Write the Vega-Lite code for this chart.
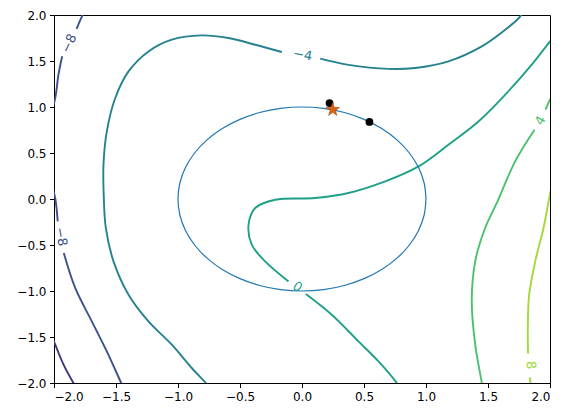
{
  "$schema": "https://vega.github.io/schema/vega-lite/v6.json",
  "width": 496,
  "height": 368,
  "autosize": {"type": "none"},
  "padding": {"left": 54, "top": 15, "right": 20, "bottom": 35},
  "config": {
    "view": {"stroke": "black", "strokeWidth": 1},
    "font": "DejaVu Sans",
    "axis": {"domainColor": "black", "tickColor": "black", "labelColor": "black", "labelFont": "DejaVu Sans", "labelFontSize": 12, "tickSize": 4.5, "grid": false, "labelPadding": 3.5}
  },
  "datasets": {
    "contours": [
      {"level": "-12", "seg": "m12", "i": 0, "x": -2.03, "y": -1.46},
      {"level": "-12", "seg": "m12", "i": 1, "x": -1.99, "y": -1.584},
      {"level": "-12", "seg": "m12", "i": 2, "x": -1.923, "y": -1.8},
      {"level": "-12", "seg": "m12", "i": 3, "x": -1.843, "y": -2.0},
      {"level": "-12", "seg": "m12", "i": 4, "x": -1.82, "y": -2.05},

      {"level": "-8", "seg": "m8a", "i": 0, "x": -1.75, "y": 2.05},
      {"level": "-8", "seg": "m8a", "i": 1, "x": -1.768, "y": 2.004},
      {"level": "-8", "seg": "m8a", "i": 2, "x": -1.818, "y": 1.85},
      {"level": "-8", "seg": "m8b", "i": 0, "x": -1.934, "y": 1.552},
      {"level": "-8", "seg": "m8b", "i": 1, "x": -1.964, "y": 1.351},
      {"level": "-8", "seg": "m8b", "i": 2, "x": -1.99, "y": 1.098},
      {"level": "-8", "seg": "m8b", "i": 3, "x": -2.02, "y": 0.95},
      {"level": "-8", "seg": "m8c", "i": 0, "x": -2.01, "y": 0.12},
      {"level": "-8", "seg": "m8c", "i": 1, "x": -1.988, "y": -0.008},
      {"level": "-8", "seg": "m8c", "i": 2, "x": -1.97, "y": -0.243},
      {"level": "-8", "seg": "m8d", "i": 0, "x": -1.921, "y": -0.587},
      {"level": "-8", "seg": "m8d", "i": 1, "x": -1.829, "y": -0.967},
      {"level": "-8", "seg": "m8d", "i": 2, "x": -1.695, "y": -1.33},
      {"level": "-8", "seg": "m8d", "i": 3, "x": -1.574, "y": -1.657},
      {"level": "-8", "seg": "m8d", "i": 4, "x": -1.458, "y": -2.0},
      {"level": "-8", "seg": "m8d", "i": 5, "x": -1.44, "y": -2.05},

      {"level": "-4", "seg": "m4a", "i": 0, "x": -0.75, "y": -2.05},
      {"level": "-4", "seg": "m4a", "i": 1, "x": -0.776, "y": -2.0},
      {"level": "-4", "seg": "m4a", "i": 2, "x": -0.889, "y": -1.837},
      {"level": "-4", "seg": "m4a", "i": 3, "x": -1.05, "y": -1.584},
      {"level": "-4", "seg": "m4a", "i": 4, "x": -1.238, "y": -1.33},
      {"level": "-4", "seg": "m4a", "i": 5, "x": -1.399, "y": -1.04},
      {"level": "-4", "seg": "m4a", "i": 6, "x": -1.52, "y": -0.678},
      {"level": "-4", "seg": "m4a", "i": 7, "x": -1.582, "y": -0.315},
      {"level": "-4", "seg": "m4a", "i": 8, "x": -1.598, "y": 0.0},
      {"level": "-4", "seg": "m4a", "i": 9, "x": -1.601, "y": 0.373},
      {"level": "-4", "seg": "m4a", "i": 10, "x": -1.574, "y": 0.735},
      {"level": "-4", "seg": "m4a", "i": 11, "x": -1.506, "y": 1.098},
      {"level": "-4", "seg": "m4a", "i": 12, "x": -1.399, "y": 1.387},
      {"level": "-4", "seg": "m4a", "i": 13, "x": -1.238, "y": 1.604},
      {"level": "-4", "seg": "m4a", "i": 14, "x": -1.05, "y": 1.732},
      {"level": "-4", "seg": "m4a", "i": 15, "x": -0.808, "y": 1.778},
      {"level": "-4", "seg": "m4a", "i": 16, "x": -0.593, "y": 1.75},
      {"level": "-4", "seg": "m4a", "i": 17, "x": -0.377, "y": 1.677},
      {"level": "-4", "seg": "m4a", "i": 18, "x": -0.163, "y": 1.598},
      {"level": "-4", "seg": "m4b", "i": 0, "x": 0.147, "y": 1.525},
      {"level": "-4", "seg": "m4b", "i": 1, "x": 0.375, "y": 1.458},
      {"level": "-4", "seg": "m4b", "i": 2, "x": 0.698, "y": 1.414},
      {"level": "-4", "seg": "m4b", "i": 3, "x": 0.913, "y": 1.424},
      {"level": "-4", "seg": "m4b", "i": 4, "x": 1.181, "y": 1.496},
      {"level": "-4", "seg": "m4b", "i": 5, "x": 1.45, "y": 1.659},
      {"level": "-4", "seg": "m4b", "i": 6, "x": 1.639, "y": 1.84},
      {"level": "-4", "seg": "m4b", "i": 7, "x": 1.76, "y": 1.985},
      {"level": "-4", "seg": "m4b", "i": 8, "x": 1.78, "y": 2.05},

      {"level": "0", "seg": "z0a", "i": 0, "x": 2.04, "y": 1.78},
      {"level": "0", "seg": "z0a", "i": 1, "x": 2.0, "y": 1.713},
      {"level": "0", "seg": "z0a", "i": 2, "x": 1.853, "y": 1.46},
      {"level": "0", "seg": "z0a", "i": 3, "x": 1.639, "y": 1.134},
      {"level": "0", "seg": "z0a", "i": 4, "x": 1.423, "y": 0.843},
      {"level": "0", "seg": "z0a", "i": 5, "x": 1.181, "y": 0.59},
      {"level": "0", "seg": "z0a", "i": 6, "x": 0.94, "y": 0.354},
      {"level": "0", "seg": "z0a", "i": 7, "x": 0.671, "y": 0.191},
      {"level": "0", "seg": "z0a", "i": 8, "x": 0.375, "y": 0.065},
      {"level": "0", "seg": "z0a", "i": 9, "x": 0.106, "y": 0.011},
      {"level": "0", "seg": "z0a", "i": 10, "x": -0.216, "y": -0.008},
      {"level": "0", "seg": "z0a", "i": 11, "x": -0.377, "y": -0.098},
      {"level": "0", "seg": "z0a", "i": 12, "x": -0.431, "y": -0.279},
      {"level": "0", "seg": "z0a", "i": 13, "x": -0.405, "y": -0.497},
      {"level": "0", "seg": "z0a", "i": 14, "x": -0.297, "y": -0.678},
      {"level": "0", "seg": "z0a", "i": 15, "x": -0.109, "y": -0.896},
      {"level": "0", "seg": "z0b", "i": 0, "x": 0.031, "y": -1.033},
      {"level": "0", "seg": "z0b", "i": 1, "x": 0.24, "y": -1.258},
      {"level": "0", "seg": "z0b", "i": 2, "x": 0.456, "y": -1.548},
      {"level": "0", "seg": "z0b", "i": 3, "x": 0.617, "y": -1.765},
      {"level": "0", "seg": "z0b", "i": 4, "x": 0.765, "y": -2.0},
      {"level": "0", "seg": "z0b", "i": 5, "x": 0.79, "y": -2.05},

      {"level": "4", "seg": "p4a", "i": 0, "x": 2.02, "y": 1.12},
      {"level": "4", "seg": "p4a", "i": 1, "x": 2.0, "y": 1.08},
      {"level": "4", "seg": "p4a", "i": 2, "x": 1.964, "y": 0.971},
      {"level": "4", "seg": "p4b", "i": 0, "x": 1.875, "y": 0.753},
      {"level": "4", "seg": "p4b", "i": 1, "x": 1.719, "y": 0.409},
      {"level": "4", "seg": "p4b", "i": 2, "x": 1.571, "y": -0.043},
      {"level": "4", "seg": "p4b", "i": 3, "x": 1.477, "y": -0.315},
      {"level": "4", "seg": "p4b", "i": 4, "x": 1.397, "y": -0.678},
      {"level": "4", "seg": "p4b", "i": 5, "x": 1.369, "y": -1.113},
      {"level": "4", "seg": "p4b", "i": 6, "x": 1.397, "y": -1.584},
      {"level": "4", "seg": "p4b", "i": 7, "x": 1.45, "y": -2.0},
      {"level": "4", "seg": "p4b", "i": 8, "x": 1.455, "y": -2.05},

      {"level": "8", "seg": "p8a", "i": 0, "x": 2.01, "y": 0.12},
      {"level": "8", "seg": "p8a", "i": 1, "x": 1.994, "y": 0.011},
      {"level": "8", "seg": "p8a", "i": 2, "x": 1.948, "y": -0.315},
      {"level": "8", "seg": "p8a", "i": 3, "x": 1.881, "y": -0.678},
      {"level": "8", "seg": "p8a", "i": 4, "x": 1.832, "y": -1.04},
      {"level": "8", "seg": "p8a", "i": 5, "x": 1.821, "y": -1.402},
      {"level": "8", "seg": "p8a", "i": 6, "x": 1.823, "y": -1.68},
      {"level": "8", "seg": "p8b", "i": 0, "x": 1.837, "y": -1.94},
      {"level": "8", "seg": "p8b", "i": 1, "x": 1.843, "y": -2.0},
      {"level": "8", "seg": "p8b", "i": 2, "x": 1.845, "y": -2.05}
    ],
    "circle": [
      {"i": 0, "x": 1.0, "y": 0.0},
      {"i": 1, "x": 0.985, "y": 0.174},
      {"i": 2, "x": 0.94, "y": 0.342},
      {"i": 3, "x": 0.866, "y": 0.5},
      {"i": 4, "x": 0.766, "y": 0.643},
      {"i": 5, "x": 0.643, "y": 0.766},
      {"i": 6, "x": 0.5, "y": 0.866},
      {"i": 7, "x": 0.342, "y": 0.94},
      {"i": 8, "x": 0.174, "y": 0.985},
      {"i": 9, "x": 0.0, "y": 1.0},
      {"i": 10, "x": -0.174, "y": 0.985},
      {"i": 11, "x": -0.342, "y": 0.94},
      {"i": 12, "x": -0.5, "y": 0.866},
      {"i": 13, "x": -0.643, "y": 0.766},
      {"i": 14, "x": -0.766, "y": 0.643},
      {"i": 15, "x": -0.866, "y": 0.5},
      {"i": 16, "x": -0.94, "y": 0.342},
      {"i": 17, "x": -0.985, "y": 0.174},
      {"i": 18, "x": -1.0, "y": 0.0},
      {"i": 19, "x": -0.985, "y": -0.174},
      {"i": 20, "x": -0.94, "y": -0.342},
      {"i": 21, "x": -0.866, "y": -0.5},
      {"i": 22, "x": -0.766, "y": -0.643},
      {"i": 23, "x": -0.643, "y": -0.766},
      {"i": 24, "x": -0.5, "y": -0.866},
      {"i": 25, "x": -0.342, "y": -0.94},
      {"i": 26, "x": -0.174, "y": -0.985},
      {"i": 27, "x": 0.0, "y": -1.0},
      {"i": 28, "x": 0.174, "y": -0.985},
      {"i": 29, "x": 0.342, "y": -0.94},
      {"i": 30, "x": 0.5, "y": -0.866},
      {"i": 31, "x": 0.643, "y": -0.766},
      {"i": 32, "x": 0.766, "y": -0.643},
      {"i": 33, "x": 0.866, "y": -0.5},
      {"i": 34, "x": 0.94, "y": -0.342},
      {"i": 35, "x": 0.985, "y": -0.174},
      {"i": 36, "x": 1.0, "y": 0.0},
      {"i": 37, "x": 0.985, "y": 0.174}
    ],
    "dots": [
      {"x": 0.222, "y": 1.043},
      {"x": 0.544, "y": 0.837}
    ],
    "star": [
      {"x": 0.248, "y": 0.971}
    ]
  },
  "layer": [
    {
      "data": {"name": "contours"},
      "mark": {"type": "line", "clip": true, "strokeWidth": 1.9, "interpolate": "catmull-rom"},
      "encoding": {
        "x": {"field": "x", "type": "quantitative", "scale": {"domain": [-2, 2], "nice": false, "zero": false}, "axis": {"values": [-2, -1.5, -1, -0.5, 0, 0.5, 1, 1.5, 2], "format": ".1f", "title": null}},
        "y": {"field": "y", "type": "quantitative", "scale": {"domain": [-2, 2], "nice": false, "zero": false}, "axis": {"values": [-2, -1.5, -1, -0.5, 0, 0.5, 1, 1.5, 2], "format": ".1f", "title": null}},
        "color": {"field": "level", "type": "nominal", "scale": {"domain": ["-12", "-8", "-4", "0", "4", "8"], "range": ["#46327e", "#3b528b", "#26828e", "#1fa088", "#4ac16d", "#a2da37"]}, "legend": null},
        "detail": {"field": "seg"},
        "order": {"field": "i", "type": "quantitative"}
      }
    },
    {
      "data": {"name": "circle"},
      "transform": [{"filter": "datum.i <= 36"}],
      "mark": {"type": "line", "clip": true, "strokeWidth": 1.2, "color": "#1f77b4", "interpolate": "catmull-rom"},
      "encoding": {
        "x": {"field": "x", "type": "quantitative"},
        "y": {"field": "y", "type": "quantitative"},
        "order": {"field": "i", "type": "quantitative"}
      }
    },
    {
      "data": {"values": [{"x": -1.878, "y": 1.69, "label": "−8"}]},
      "mark": {"type": "text", "font": "DejaVu Sans", "fontSize": 13, "angle": -64, "color": "#3b528b", "align": "center", "baseline": "middle"},
      "encoding": {"x": {"field": "x", "type": "quantitative"}, "y": {"field": "y", "type": "quantitative"}, "text": {"field": "label"}}
    },
    {
      "data": {"values": [{"x": -1.944, "y": -0.41, "label": "−8"}]},
      "mark": {"type": "text", "font": "DejaVu Sans", "fontSize": 13, "angle": 79, "color": "#3b528b", "align": "center", "baseline": "middle"},
      "encoding": {"x": {"field": "x", "type": "quantitative"}, "y": {"field": "y", "type": "quantitative"}, "text": {"field": "label"}}
    },
    {
      "data": {"values": [{"x": 0.005, "y": 1.565, "label": "−4"}]},
      "mark": {"type": "text", "font": "DejaVu Sans", "fontSize": 13, "angle": 10, "color": "#26828e", "align": "center", "baseline": "middle"},
      "encoding": {"x": {"field": "x", "type": "quantitative"}, "y": {"field": "y", "type": "quantitative"}, "text": {"field": "label"}}
    },
    {
      "data": {"values": [{"x": -0.036, "y": -0.955, "label": "0"}]},
      "mark": {"type": "text", "font": "DejaVu Sans", "fontSize": 13, "angle": 36, "color": "#1fa088", "align": "center", "baseline": "middle"},
      "encoding": {"x": {"field": "x", "type": "quantitative"}, "y": {"field": "y", "type": "quantitative"}, "text": {"field": "label"}}
    },
    {
      "data": {"values": [{"x": 1.923, "y": 0.85, "label": "4"}]},
      "mark": {"type": "text", "font": "DejaVu Sans", "fontSize": 13, "angle": -61, "color": "#4ac16d", "align": "center", "baseline": "middle"},
      "encoding": {"x": {"field": "x", "type": "quantitative"}, "y": {"field": "y", "type": "quantitative"}, "text": {"field": "label"}}
    },
    {
      "data": {"values": [{"x": 1.844, "y": -1.805, "label": "8"}]},
      "mark": {"type": "text", "font": "DejaVu Sans", "fontSize": 13, "angle": 86, "color": "#a2da37", "align": "center", "baseline": "middle"},
      "encoding": {"x": {"field": "x", "type": "quantitative"}, "y": {"field": "y", "type": "quantitative"}, "text": {"field": "label"}}
    },
    {
      "data": {"name": "dots"},
      "mark": {"type": "point", "shape": "circle", "filled": true, "color": "black", "size": 60, "opacity": 1},
      "encoding": {"x": {"field": "x", "type": "quantitative"}, "y": {"field": "y", "type": "quantitative"}}
    },
    {
      "data": {"name": "star"},
      "mark": {"type": "point", "shape": "M0,-1L0.2245,-0.309L0.951,-0.309L0.363,0.118L0.588,0.809L0,0.382L-0.588,0.809L-0.363,0.118L-0.951,-0.309L-0.2245,-0.309Z", "filled": true, "color": "#d9600c", "stroke": "#b04a05", "strokeWidth": 0.6, "size": 200, "opacity": 1},
      "encoding": {"x": {"field": "x", "type": "quantitative"}, "y": {"field": "y", "type": "quantitative"}}
    }
  ]
}
